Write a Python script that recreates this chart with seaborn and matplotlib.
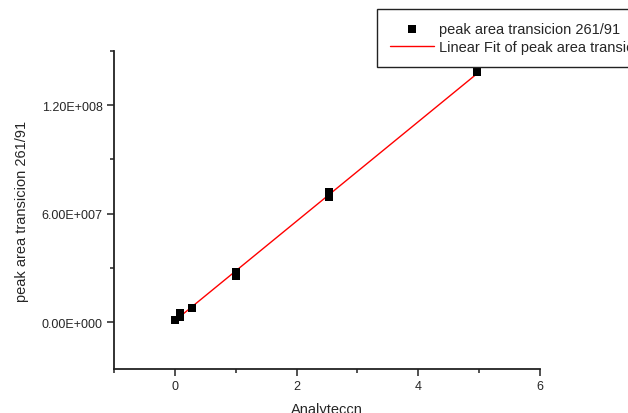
import numpy as np
import pandas as pd
import matplotlib
matplotlib.use("Agg")
import matplotlib.pyplot as plt
from matplotlib.ticker import MultipleLocator, FuncFormatter
import seaborn as sns

# data
conc = [0.0, 0.08, 0.08, 0.28, 1.0, 1.0, 2.54, 2.54, 4.97]
area = [1.3e6, 5.2e6, 2.9e6, 7.9e6, 2.79e7, 2.56e7, 7.22e7, 6.94e7, 1.381e8]
point_label = "peak area transicion 261/91"
fit_label = "Linear Fit of peak area transicion 261/91"
x_label = "Analyteccn"
y_label = "peak area transicion 261/91"

df = pd.DataFrame({"x": conc, "y": area})

# linear fit over the data range
slope, icpt = np.polyfit(df["x"], df["y"], 1)
fit = pd.DataFrame({"x": [df["x"].min(), df["x"].max()]})
fit["y"] = slope * fit["x"] + icpt

sns.set_style("ticks")
plt.rcParams["font.family"] = ["Liberation Sans", "DejaVu Sans"]

fig = plt.figure(figsize=(6.28, 4.14), dpi=100)
ax = fig.add_axes([0.1815, 0.1063, 0.6785, 0.7681])

sns.lineplot(data=fit, x="x", y="y", color="red", lw=1, ax=ax, label=fit_label)
sns.scatterplot(data=df, x="x", y="y", marker="s", s=30, color="black",
                edgecolor="black", linewidth=0, ax=ax, label=point_label, zorder=3)

ax.set_xlim(-1, 6)
ax.set_ylim(-2.6e7, 1.5e8)
ax.xaxis.set_major_locator(MultipleLocator(2))
ax.xaxis.set_minor_locator(MultipleLocator(1))
ax.yaxis.set_major_locator(MultipleLocator(6e7))
ax.yaxis.set_minor_locator(MultipleLocator(3e7))


def sci(v, pos):
    if v == 0:
        return "0.00E+000"
    e = int(np.floor(np.log10(abs(v))))
    m = v / 10 ** e
    return f"{m:.2f}E{'+' if e >= 0 else '-'}{abs(e):03d}"


ax.yaxis.set_major_formatter(FuncFormatter(sci))

for s in ["top", "right"]:
    ax.spines[s].set_visible(False)
for s in ["left", "bottom"]:
    ax.spines[s].set_linewidth(1.3)
    ax.spines[s].set_color("#222222")

ax.tick_params(which="major", length=5, width=1.1, color="#222222",
               labelsize=9, pad=3)
ax.tick_params(which="minor", length=3, width=1.1, color="#222222")

ax.set_xlabel(x_label, fontsize=10.5, labelpad=7)
ax.set_ylabel(y_label, fontsize=10.5, labelpad=9)

handles, labels = ax.get_legend_handles_labels()
order = [labels.index(point_label), labels.index(fit_label)]
leg = ax.legend([handles[i] for i in order], [labels[i] for i in order],
                loc="upper left", bbox_to_anchor=(0.600, 0.976),
                bbox_transform=fig.transFigure, fontsize=10.5,
                frameon=True, fancybox=False, framealpha=1,
                edgecolor="#222222", borderpad=0.9, labelspacing=0.25,
                handlelength=3.0, handletextpad=0.35, borderaxespad=0)
leg.get_frame().set_linewidth(1.0)

fig.savefig("out.png", dpi=100)
